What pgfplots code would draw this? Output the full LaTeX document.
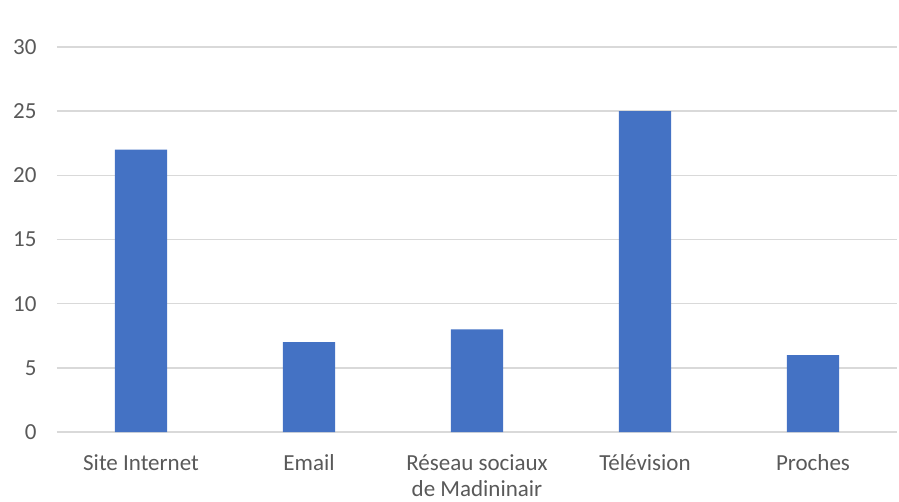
\documentclass[border=0pt]{standalone}
\usepackage{pgfplots}
\pgfplotsset{compat=1.18}
\usepackage{fontspec}
\setmainfont{Carlito}
\definecolor{barblue}{HTML}{4472C4}
\definecolor{gridgray}{HTML}{D9D9D9}
\definecolor{txtgray}{HTML}{595959}
\begin{document}
\begin{tikzpicture}
\begin{axis}[
  at={(0pt,0pt)}, anchor=south west,
  scale only axis, width=840pt, height=385pt,
  xmin=-0.5, xmax=4.5, ymin=0, ymax=30,
  ytick={0,5,...,30},
  xtick=data,
  xticklabels={Site Internet, Email, {Réseau sociaux\\de Madininair}, Télévision, Proches},
  xticklabel style={align=center, font=\fontsize{23}{26}\selectfont, text=txtgray, yshift=-19pt},
  yticklabel style={font=\fontsize{23}{26}\selectfont, text=txtgray, xshift=-17pt},
  /pgf/number format/assume math mode=true,
  ymajorgrids, grid style={gridgray, line width=1.5pt},
  major tick length=0pt,
  axis x line*=bottom,
  x axis line style={gridgray, line width=1.5pt, -},
  axis y line*=left,
  y axis line style={draw=none},
  ybar, bar width=0.31,
  clip=false,
]
\addplot[fill=barblue, draw=none] coordinates {(0,22) (1,7) (2,8) (3,25) (4,6)};
\end{axis}
\pgfresetboundingbox
\path[use as bounding box] (-57pt,-69pt) rectangle (842pt,432pt);
\end{tikzpicture}
\end{document}
